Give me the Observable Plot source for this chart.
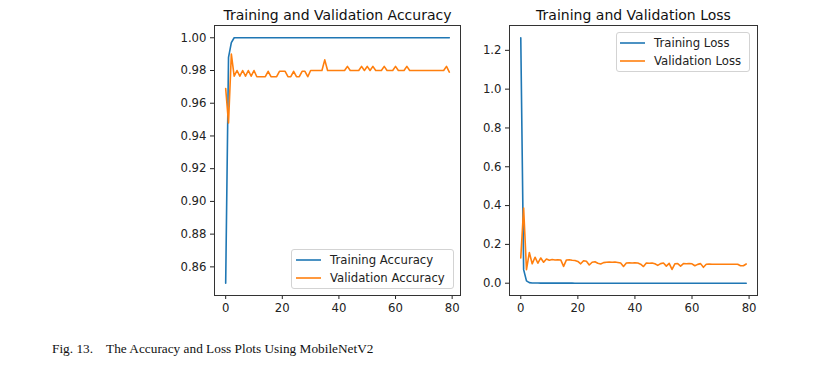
<!DOCTYPE html>
<html><head><meta charset="utf-8">
<script src="https://cdn.jsdelivr.net/npm/d3@7"></script>
<script src="https://cdn.jsdelivr.net/npm/@observablehq/plot@0.6"></script>
<style>
html,body{margin:0;padding:0;background:#fff}
#page{position:relative;width:832px;height:377px;overflow:hidden;font-family:"DejaVu Sans",sans-serif}
.panel{position:absolute;top:0}
.legend{position:absolute;border:1px solid #d3d3d3;border-radius:3px;background:rgba(255,255,255,0.8);box-sizing:border-box;font-size:11.7px;color:#222}
.legend .row{position:absolute;height:18px;line-height:18px;white-space:nowrap}
.legend svg{position:absolute;overflow:visible}
#caption{position:absolute;left:52px;top:341px;font-family:"Liberation Serif","Times New Roman",serif;font-size:13.3px;color:#111;white-space:pre}
</style>
</head><body>
<div id="page"></div>
<script>
// ---- data ----
const xTicks = [0, 20, 40, 60, 80];
const accTicks = [0.86, 0.88, 0.90, 0.92, 0.94, 0.96, 0.98, 1.00];
const lossTicks = [0.0, 0.2, 0.4, 0.6, 0.8, 1.0, 1.2];
const titles = ["Training and Validation Accuracy", "Training and Validation Loss"];
const accLabels = ["Training Accuracy", "Validation Accuracy"];
const lossLabels = ["Training Loss", "Validation Loss"];
const captionText = "Fig. 13.    The Accuracy and Loss Plots Using MobileNetV2";

const trainAcc = [
  0.850, 0.988, 0.997, 1.000, 1.000, 1.000, 1.000, 1.000, 1.000, 1.000,
  1.000, 1.000, 1.000, 1.000, 1.000, 1.000, 1.000, 1.000, 1.000, 1.000,
  1.000, 1.000, 1.000, 1.000, 1.000, 1.000, 1.000, 1.000, 1.000, 1.000,
  1.000, 1.000, 1.000, 1.000, 1.000, 1.000, 1.000, 1.000, 1.000, 1.000,
  1.000, 1.000, 1.000, 1.000, 1.000, 1.000, 1.000, 1.000, 1.000, 1.000,
  1.000, 1.000, 1.000, 1.000, 1.000, 1.000, 1.000, 1.000, 1.000, 1.000,
  1.000, 1.000, 1.000, 1.000, 1.000, 1.000, 1.000, 1.000, 1.000, 1.000,
  1.000, 1.000, 1.000, 1.000, 1.000, 1.000, 1.000, 1.000, 1.000, 1.000
];
const valAcc = [
  0.969, 0.948, 0.990, 0.9765, 0.980, 0.9765, 0.980, 0.9765, 0.980, 0.9765,
  0.980, 0.9762, 0.9762, 0.9762, 0.9762, 0.9795, 0.9762, 0.9762, 0.9762, 0.9795,
  0.9795, 0.9795, 0.9762, 0.9762, 0.9795, 0.9762, 0.9762, 0.9795, 0.9795, 0.9762,
  0.980, 0.980, 0.980, 0.980, 0.980, 0.9865, 0.980, 0.980, 0.980, 0.980,
  0.980, 0.980, 0.980, 0.9825, 0.980, 0.980, 0.980, 0.980, 0.9825, 0.980,
  0.9825, 0.980, 0.9825, 0.980, 0.980, 0.980, 0.9825, 0.980, 0.980, 0.980,
  0.9825, 0.980, 0.980, 0.980, 0.9825, 0.980, 0.980, 0.980, 0.980, 0.980,
  0.980, 0.980, 0.980, 0.980, 0.980, 0.980, 0.980, 0.980, 0.9825, 0.979
];
const trainLoss = [
  1.265, 0.070, 0.012, 0.003, 0.0015, 0.0010, 0.0008, 0.0007, 0.0006, 0.0005,
  0.0005, 0.0004, 0.0004, 0.0004, 0.0003, 0.0003, 0.0003, 0.0003, 0.0003, 0.0002,
  0.0002, 0.0002, 0.0002, 0.0002, 0.0002, 0.0002, 0.0002, 0.0002, 0.0002, 0.0002,
  0.0001, 0.0001, 0.0001, 0.0001, 0.0001, 0.0001, 0.0001, 0.0001, 0.0001, 0.0001,
  0.0001, 0.0001, 0.0001, 0.0001, 0.0001, 0.0001, 0.0001, 0.0001, 0.0001, 0.0001,
  0.0001, 0.0001, 0.0001, 0.0001, 0.0001, 0.0001, 0.0001, 0.0001, 0.0001, 0.0001,
  0.0001, 0.0001, 0.0001, 0.0001, 0.0001, 0.0001, 0.0001, 0.0001, 0.0001, 0.0001,
  0.0001, 0.0001, 0.0001, 0.0001, 0.0001, 0.0001, 0.0001, 0.0001, 0.0001, 0.0001
];
const valLoss = [
  0.130, 0.387, 0.070, 0.158, 0.100, 0.134, 0.103, 0.130, 0.108, 0.125,
  0.118, 0.122, 0.120, 0.121, 0.120, 0.087, 0.120, 0.121, 0.118, 0.117,
  0.112, 0.100, 0.116, 0.113, 0.094, 0.108, 0.111, 0.103, 0.099, 0.106,
  0.108, 0.109, 0.108, 0.109, 0.107, 0.104, 0.086, 0.104, 0.105, 0.104,
  0.105, 0.104, 0.098, 0.086, 0.104, 0.103, 0.104, 0.100, 0.092, 0.101,
  0.104, 0.088, 0.102, 0.071, 0.100, 0.101, 0.088, 0.101, 0.100, 0.101,
  0.100, 0.090, 0.097, 0.101, 0.082, 0.098, 0.099, 0.098, 0.098, 0.098,
  0.098, 0.098, 0.098, 0.098, 0.098, 0.098, 0.098, 0.090, 0.090, 0.099
];

const blue = "#1f77b4", orange = "#ff7f0e";

const toRows = arr => arr.map((v, i) => ({epoch: i, value: v}));

function panel({title, ticks, fmt, yDomain, series, marginLeft, marginRight}) {
  return Plot.plot({
    width: 320, height: 320,
    marginLeft, marginRight, marginTop: 25, marginBottom: 25,
    x: {domain: [-3.95, 82.95]},
    y: {domain: yDomain},
    style: {fontFamily: "DejaVu Sans, sans-serif", fontSize: "11.7px", color: "#222", background: "transparent", overflow: "visible"},
    marks: [
      ...series.map(s => Plot.lineY(toRows(s.values), {x: "epoch", y: "value", stroke: s.color, strokeWidth: 1.6})),
      Plot.axisX({ticks: xTicks, tickSize: 4, tickPadding: 4, label: null}),
      Plot.axisY({ticks, tickFormat: d3.format(fmt), tickSize: 4, tickPadding: 4, label: null}),
      Plot.frame({stroke: "#333", strokeWidth: 1}),
      Plot.text([title], {text: d => d, frameAnchor: "top", dy: -15, fontSize: 14, fill: "#111"})
    ]
  });
}

const page = document.getElementById("page");

function place(el, left) {
  const w = document.createElement("div");
  w.className = "panel";
  w.style.left = left + "px";
  w.appendChild(el);
  page.appendChild(w);
}

place(panel({
  title: titles[0], ticks: accTicks, fmt: ".2f", yDomain: [0.8425, 1.0075],
  series: [{values: trainAcc, color: blue}, {values: valAcc, color: orange}],
  marginLeft: 64, marginRight: 10
}), 150);

place(panel({
  title: titles[1], ticks: lossTicks, fmt: ".1f", yDomain: [-0.0633, 1.328],
  series: [{values: trainLoss, color: blue}, {values: valLoss, color: orange}],
  marginLeft: 59, marginRight: 13
}), 450);

function legend(left, top, width, labels, hx0, hx1, tx) {
  const box = document.createElement("div");
  box.className = "legend";
  Object.assign(box.style, {left: left + "px", top: top + "px", width: width + "px", height: "40px"});
  const colors = [blue, orange];
  labels.forEach((lab, i) => {
    const cy = 10 + i * 18;
    const svg = document.createElementNS("http://www.w3.org/2000/svg", "svg");
    svg.setAttribute("width", hx1 - hx0); svg.setAttribute("height", 4);
    svg.style.left = hx0 + "px"; svg.style.top = (cy - 2) + "px";
    const ln = document.createElementNS("http://www.w3.org/2000/svg", "line");
    ln.setAttribute("x1", 0); ln.setAttribute("x2", hx1 - hx0);
    ln.setAttribute("y1", 2); ln.setAttribute("y2", 2);
    ln.setAttribute("stroke", colors[i]); ln.setAttribute("stroke-width", 1.6);
    svg.appendChild(ln);
    box.appendChild(svg);
    const row = document.createElement("div");
    row.className = "row";
    row.style.left = tx + "px"; row.style.top = (cy - 9) + "px";
    row.textContent = lab;
    box.appendChild(row);
  });
  page.appendChild(box);
}
legend(291, 249, 163, accLabels, 4, 29, 38);
legend(616, 32, 134, lossLabels, 3, 28, 37);

const cap = document.createElement("div");
cap.id = "caption";
cap.textContent = captionText;
page.appendChild(cap);
</script>
</body></html>
